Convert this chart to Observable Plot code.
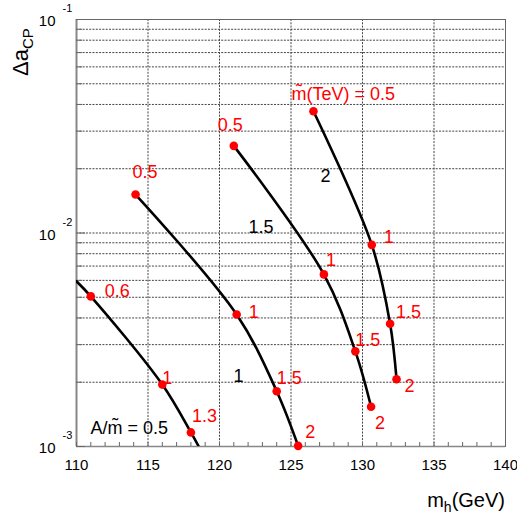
<!DOCTYPE html>
<html><head><meta charset="utf-8">
<script src="https://cdn.jsdelivr.net/npm/d3@7"></script>
<script src="https://cdn.jsdelivr.net/npm/@observablehq/plot@0.6"></script>
<style>html,body{margin:0;padding:0;background:#fff;overflow:hidden}
svg text{font-family:"Liberation Sans",Arial,Helvetica,sans-serif}</style>
</head><body><div id="chart"></div>
<script>
// ================= DATA =================
const ratios = [0.5, 1, 1.5, 2];            // A / m~ of each curve
// A/m~ = 0.5 (first and last points are where the curve meets the frame)
const mh_r05 = [110.0, 111.0, 116.0, 118.0, 118.55];
const da_r05 = [0.00594, 0.00505, 0.00195, 0.001164, 0.001];
const mt_r05 = [null, 0.6, 1, 1.3, null];
// A/m~ = 1
const mh_r10 = [114.13, 121.2, 124.0, 125.5];
const da_r10 = [0.01514, 0.00415, 0.001816, 0.001007];
const mt_r10 = [0.5, 1, 1.5, 2];
// A/m~ = 1.5
const mh_r15 = [121.0, 127.3, 129.5, 130.6];
const da_r15 = [0.0256, 0.0064, 0.00279, 0.001535];
const mt_r15 = [0.5, 1, 1.5, 2];
// A/m~ = 2
const mh_r20 = [126.57, 130.65, 131.93, 132.38];
const da_r20 = [0.0372, 0.0088, 0.003755, 0.002066];
const mt_r20 = [0.5, 1, 1.5, 2];
// where each curve's A/m~ label sits
const ratioLabelMh = [110.98, 120.98, 122.03, 127.06];
const ratioLabelDa = [0.00122, 0.00214, 0.01067, 0.0185];
// axis ticks
const xTicks = [110, 115, 120, 125, 130, 135, 140];
const xMinor = [110,111,112,113,114,115,116,117,118,119,120,121,122,123,124,125,126,127,128,129,130,131,132,133,134,135,136,137,138,139,140];
const yDecades = [1e-3, 1e-2, 1e-1];
const yMinor = [2e-3,3e-3,4e-3,5e-3,6e-3,7e-3,8e-3,9e-3,2e-2,3e-2,4e-2,5e-2,6e-2,7e-2,8e-2,9e-2];

// ================= LAYOUT (label offsets in px) =================
const labelOffsets = {
  0.5: [null, [14,-5], [0,-6], [1,-16], null],
  1:   [[-3,-22], [12,-2], [0,-13], [7,-14]],
  1.5: [[-16,-21], [2,-14], [0,-11], [4,16]],
  2:   [[-22,-17], [12,-8], [6,-12], [8,7]]
};

// ================= BUILD =================
const series = [[mh_r05,da_r05,mt_r05],[mh_r10,da_r10,mt_r10],[mh_r15,da_r15,mt_r15],[mh_r20,da_r20,mt_r20]];
const curves = [], dots = [];
series.forEach(([mh, da, mt], k) => {
  const r = ratios[k];
  mh.forEach((x, i) => {
    curves.push({r, mh: x, da: da[i]});
    if (mt[i] != null) {
      const [dx, dy] = labelOffsets[r][i];
      const txt = (k === 3 && i === 0) ? "m\u0303(TeV) = " + mt[i] : String(mt[i]);
      dots.push({r, mh: x, da: da[i], mt: mt[i], txt, dx, dy});
    }
  });
});
const ratioLabels = ratios.map((r, k) => ({r, mh: ratioLabelMh[k], da: ratioLabelDa[k], txt: k === 0 ? "A/m\u0303 = " + r : String(r)}));
const gridX = xTicks.slice(1, -1);
const gridY = [...yMinor, 1e-2];
const font = "Liberation Sans, Arial, Helvetica, sans-serif";

const chart = Plot.plot({
  width: 517, height: 521,
  marginLeft: 76, marginRight: 12, marginTop: 19, marginBottom: 75,
  style: {fontFamily: font, background: "white"},
  x: {domain: [110, 140], axis: null},
  y: {type: "log", domain: [1e-3, 1e-1], axis: null},
  marks: [
    Plot.ruleX(gridX, {stroke: "#444", strokeWidth: 1, strokeDasharray: "2,1.3"}),
    Plot.ruleY(gridY, {stroke: "#444", strokeWidth: 1, strokeDasharray: "2,1.3"}),
    Plot.frame({stroke: "#666", strokeWidth: 1}),
    Plot.ruleX([110], {stroke: "#888", strokeWidth: 2}),
    Plot.ruleY([1e-3], {stroke: "#888", strokeWidth: 1.5}),
    // bottom minor ticks (inward)
    Plot.ruleX(xMinor, {y1: 1e-3, y2: 1e-3, insetTop: -4, stroke: "#666", strokeWidth: 1}),
    // left ticks (inward)
    Plot.ruleY(yMinor, {x1: 110, x2: 110, insetRight: -6, stroke: "#666", strokeWidth: 1}),
    Plot.ruleY(yDecades, {x1: 110, x2: 110, insetRight: -9, stroke: "#666", strokeWidth: 1}),
    // x tick labels
    Plot.text(xTicks, {x: d => d, frameAnchor: "bottom", text: d => String(d), dy: 23, fontSize: 15, fill: "black"}),
    // y tick labels 10^n
    Plot.text(yDecades, {y: d => d, frameAnchor: "left", text: () => "10", textAnchor: "end", dx: -21, dy: 2, fontSize: 15, fill: "black"}),
    Plot.text(yDecades, {y: d => d, frameAnchor: "left", text: d => String(Math.round(Math.log10(d))), textAnchor: "start", dx: -14, dy: -11, fontSize: 11, fill: "black"}),
    // curves
    Plot.line(curves, {x: "mh", y: "da", z: "r", curve: "catmull-rom", stroke: "black", strokeWidth: 2.6, clip: true}),
    Plot.dot(dots, {x: "mh", y: "da", r: 4.3, fill: "#ff0000", stroke: "none"}),
    ...dots.map(d => Plot.text([d], {x: "mh", y: "da", text: "txt", dx: d.dx, dy: d.dy, textAnchor: "start", fontSize: 18, fill: "#ff0000"})),
    Plot.text(ratioLabels, {x: "mh", y: "da", text: "txt", textAnchor: "start", fontSize: 18, fill: "black"})
  ]
});
document.getElementById("chart").appendChild(chart);

// axis titles with sub-scripts
const svg = d3.select(chart);
const xt = svg.append("text").attr("x", 505).attr("y", 507).attr("text-anchor", "end")
  .attr("font-size", 20).attr("fill", "black");
xt.append("tspan").text("m");
xt.append("tspan").attr("font-size", 14).attr("dy", 5).text("h");
xt.append("tspan").attr("dy", -5).text("(GeV)");
const yt = svg.append("text").attr("transform", "translate(28,76) rotate(-90)")
  .attr("text-anchor", "start").attr("font-size", 22).attr("fill", "black");
yt.append("tspan").text("\u0394a");
yt.append("tspan").attr("font-size", 15).attr("dy", 5).text("CP");
</script>
</body></html>
